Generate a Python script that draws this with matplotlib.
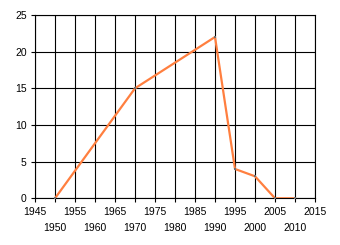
import matplotlib
matplotlib.use('Agg')
import matplotlib.pyplot as plt
import numpy as np

plt.rcParams['font.family'] = ['Liberation Sans', 'DejaVu Sans']
plt.rcParams['font.size'] = 7.5

years = [1950, 1970, 1990, 1995, 2000, 2005, 2010]
values = [0, 15, 22, 4, 3, 0, 0]

upper_ticks = list(range(1945, 2016, 10))
lower_ticks = list(range(1950, 2011, 10))
y_ticks = [0, 5, 10, 15, 20, 25]

fig = plt.figure(figsize=(3.4, 2.45), dpi=100)
ax = fig.add_axes([35 / 340, 1 - 198.3 / 245, 280 / 340, 183.3 / 245])

ax.plot(years, values, color='#ff7f3f', lw=1.6, zorder=3)
ax.plot(years, values, 's', color='#707070', ms=1.5, mew=0, zorder=4)

ax.set_xlim(1945, 2015)
ax.set_ylim(0, 25)
ax.set_xticks(upper_ticks)
ax.set_xticks(lower_ticks, minor=True)
ax.set_xticklabels([str(t) for t in upper_ticks])
ax.set_xticklabels([str(t) for t in lower_ticks], minor=True)
ax.set_yticks(y_ticks)

ax.tick_params(axis='x', which='major', length=3, width=0.8, pad=3, colors='black')
ax.tick_params(axis='x', which='minor', length=3, width=0.8, pad=15, colors='black')
ax.tick_params(axis='y', length=3, width=0.8, pad=3, colors='black')

ax.grid(True, which='both', color='black', lw=0.8)
ax.set_axisbelow(True)
for s in ax.spines.values():
    s.set_color('black')
    s.set_linewidth(0.8)

fig.savefig('out.png', dpi=100)
